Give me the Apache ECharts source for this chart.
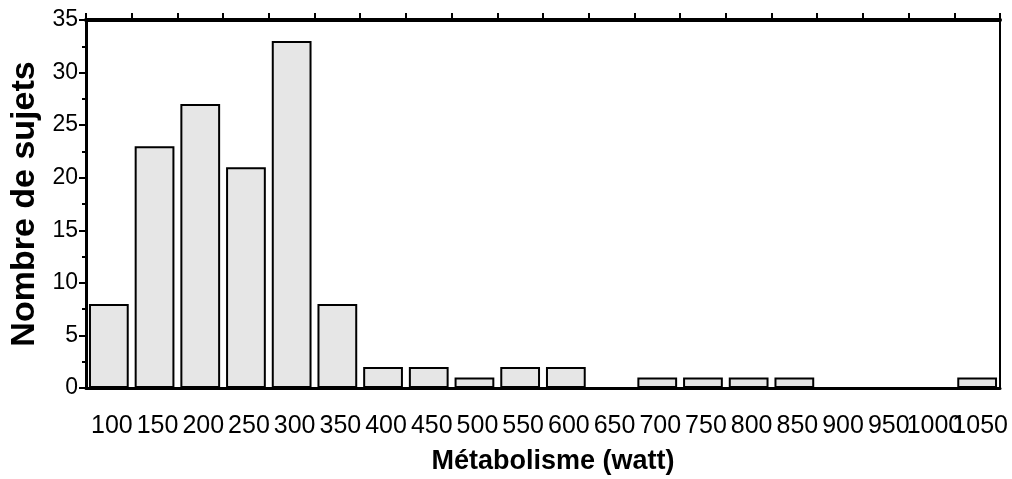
<!DOCTYPE html>
<html>
<head>
<meta charset="utf-8">
<script src="https://cdn.jsdelivr.net/npm/echarts@6/dist/echarts.min.js"></script>
<style>
  html, body { margin: 0; padding: 0; background: #fff; }
  #chart { width: 1012px; height: 479px; }
</style>
</head>
<body>
<div id="chart"></div>
<script>
// bins (watt) and counts
var categories = ['100', '150', '200', '250', '300', '350', '400', '450', '500', '550',
                  '600', '650', '700', '750', '800', '850', '900', '950', '1000', '1050'];
var counts = [8, 23, 27, 21, 33, 8, 2, 2, 1, 2, 2, 0, 1, 1, 1, 1, 0, 0, 0, 1];

var font = '"Liberation Sans", Arial, sans-serif';

var myChart = echarts.init(document.getElementById('chart'));

myChart.setOption({
    animation: false,
    textStyle: { fontFamily: font },
    grid: {
        left: 86,
        right: 12,
        top: 20,
        bottom: 91,
        outerBoundsMode: 'none'
    },
    xAxis: [
        {
            type: 'category',
            data: categories,
            name: 'Métabolisme (watt)',
            nameLocation: 'middle',
            nameGap: 60,
            nameTextStyle: { fontSize: 27, fontWeight: 'bold', color: '#000', fontFamily: font, padding: [0, 0, 0, 20] },
            axisLine: { onZero: false, lineStyle: { color: '#000', width: 3 } },
            axisTick: { length: 6, lineStyle: { color: '#000', width: 2 } },
            axisLabel: { fontSize: 25, color: '#000', margin: 26, interval: 0, fontFamily: font, padding: [0, 0, 0, 6] }
        },
        {
            // top frame with ticks, no labels
            type: 'category',
            data: categories,
            position: 'top',
            axisLine: { show: true, onZero: false, lineStyle: { color: '#000', width: 4 } },
            axisTick: { show: true, interval: 0, length: 7, lineStyle: { color: '#000', width: 2 } },
            axisLabel: { show: false }
        }
    ],
    yAxis: [
        {
            type: 'value',
            min: 0,
            max: 35,
            interval: 5,
            name: 'Nombre de sujets',
            nameLocation: 'middle',
            nameGap: 44,
            nameTextStyle: { fontSize: 34, fontWeight: 'bold', color: '#000', fontFamily: font },
            axisLine: { show: true, onZero: false, lineStyle: { color: '#000', width: 3 } },
            axisTick: { show: true, length: 7, lineStyle: { color: '#000', width: 2 } },
            minorTick: { show: true, splitNumber: 2, length: 4, lineStyle: { color: '#000', width: 2 } },
            splitLine: { show: false },
            axisLabel: { fontSize: 23, color: '#000', margin: 8, fontFamily: font }
        },
        {
            type: 'value',
            min: 0,
            max: 35,
            interval: 5,
            position: 'right',
            axisLine: { show: true, onZero: false, lineStyle: { color: '#000', width: 2 } },
            axisTick: { show: false },
            splitLine: { show: false },
            axisLabel: { show: false }
        }
    ],
    series: [
        {
            name: 'Nombre de sujets',
            type: 'bar',
            data: counts,
            barCategoryGap: '13%',
            itemStyle: {
                color: '#e6e6e6',
                borderColor: '#000',
                borderWidth: 2
            }
        }
    ]
});
</script>
</body>
</html>
